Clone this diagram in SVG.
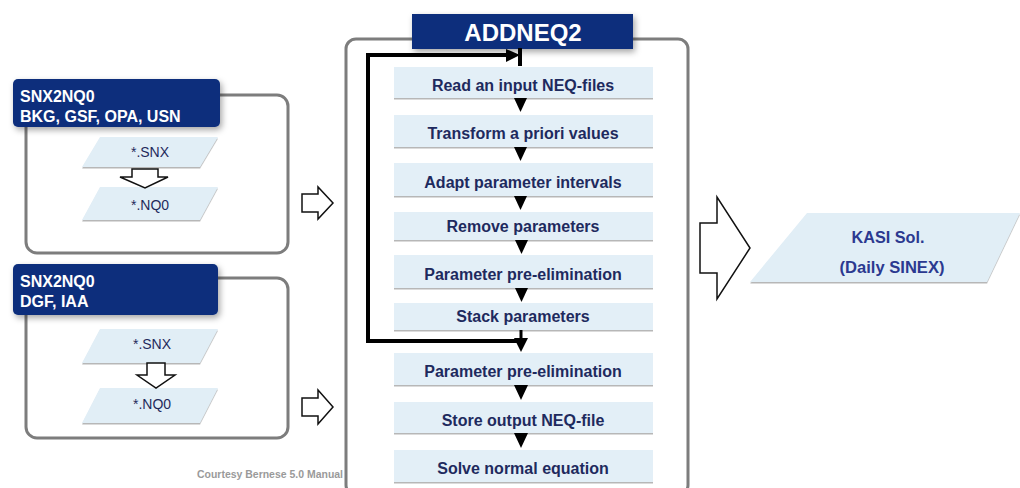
<svg xmlns="http://www.w3.org/2000/svg" width="1020" height="488" viewBox="0 0 1020 488">
<defs>
<filter id="sh" x="-10%" y="-20%" width="125%" height="150%">
<feDropShadow dx="2" dy="3" stdDeviation="3" flood-color="#000" flood-opacity="0.35"/>
</filter>
<filter id="sh2" x="-5%" y="-20%" width="110%" height="150%">
<feDropShadow dx="0" dy="1.5" stdDeviation="0.6" flood-color="#999" flood-opacity="0.7"/>
</filter>
</defs>
<style>
.outer{fill:#fff;stroke:#7d7d7d;stroke-width:3}
.hdr{fill:#0c2f7c}
.hdrt{fill:#fff;font-family:"Liberation Sans",Arial,sans-serif;font-weight:bold}
.para{fill:#e1eef6;filter:url(#sh2)}
.pt{fill:#1f2a5c;font-family:"Liberation Sans",Arial,sans-serif;font-size:14px;text-anchor:middle}
.box{fill:#e3eff7;filter:url(#sh2)}
.bt{fill:#1e2a5e;font-family:"Liberation Sans",Arial,sans-serif;font-weight:bold;font-size:16px;text-anchor:middle}
.harr{fill:#fff;stroke:#111;stroke-width:1.5;stroke-linejoin:miter}
.tri{fill:#000}
.loop{fill:none;stroke:#000;stroke-width:4;stroke-linejoin:miter}
.kasi{fill:#2b3990;font-family:"Liberation Sans",Arial,sans-serif;font-weight:bold;font-size:17px;text-anchor:middle}
</style>

<g id="group-bkg">
<rect class="outer" x="26" y="95" width="262" height="158" rx="11"/>
<rect class="hdr" x="13" y="79" width="207" height="48" rx="5" filter="url(#sh)"/>
<text class="hdrt" x="20" y="102" font-size="16">SNX2NQ0</text>
<text class="hdrt" x="20" y="122" font-size="16">BKG, GSF, OPA, USN</text>
</g>
<g id="snx1">
<polygon class="para" points="100,137 218,137 200,167 82,167"/>
<text class="pt" x="150" y="157">*.SNX</text>
</g>
<g id="nq01">
<polygon class="para" points="100,187 218,187 200,220 82,220"/>
<text class="pt" x="150" y="210">*.NQ0</text>
</g>

<g id="group-dgf">
<rect class="outer" x="26" y="278" width="262" height="160" rx="11"/>
<rect class="hdr" x="13" y="264" width="205" height="51" rx="5" filter="url(#sh)"/>
<text class="hdrt" x="20" y="287" font-size="16">SNX2NQ0</text>
<text class="hdrt" x="20" y="307" font-size="16">DGF, IAA</text>
</g>
<g id="snx2">
<polygon class="para" points="100,329 218,329 200,363 82,363"/>
<text class="pt" x="152" y="349">*.SNX</text>
</g>
<g id="nq02">
<polygon class="para" points="100,388 218,388 200,423 82,423"/>
<text class="pt" x="152" y="409">*.NQ0</text>
</g>

<g id="addneq2">
<rect class="outer" x="346" y="39" width="342" height="456" rx="10"/>
<rect class="hdr" x="412" y="14" width="221" height="35" filter="url(#sh)"/>
<text class="hdrt" x="523" y="40.5" font-size="24" text-anchor="middle">ADDNEQ2</text>
</g>

<g id="step1"><rect class="box" x="394" y="67" width="259" height="31"/><text class="bt" x="523" y="91">Read an input NEQ-files</text></g>
<g id="step2"><rect class="box" x="394" y="115" width="259" height="32"/><text class="bt" x="523" y="139">Transform a priori values</text></g>
<g id="step3"><rect class="box" x="394" y="163" width="259" height="33"/><text class="bt" x="523" y="188">Adapt parameter intervals</text></g>
<g id="step4"><rect class="box" x="394" y="212" width="259" height="28"/><text class="bt" x="523" y="232">Remove parameters</text></g>
<g id="step5"><rect class="box" x="394" y="255" width="259" height="33"/><text class="bt" x="523" y="280">Parameter pre-elimination</text></g>
<g id="step6"><rect class="box" x="394" y="303" width="259" height="27"/><text class="bt" x="523" y="322">Stack parameters</text></g>
<g id="step7"><rect class="box" x="394" y="353" width="259" height="32"/><text class="bt" x="523" y="377">Parameter pre-elimination</text></g>
<g id="step8"><rect class="box" x="394" y="402" width="259" height="31"/><text class="bt" x="523" y="426">Store output NEQ-file</text></g>
<g id="step9"><rect class="box" x="394" y="450" width="259" height="32"/><text class="bt" x="523" y="474">Solve normal equation</text></g>

<g id="kasi">
<polygon class="para" points="807,213 1020,213 987,282 750,282"/>
<text class="kasi" x="888" y="243" textLength="73" lengthAdjust="spacingAndGlyphs">KASI Sol.</text>
<text class="kasi" x="892" y="273" textLength="105" lengthAdjust="spacingAndGlyphs">(Daily SINEX)</text>
</g>

<g id="connectors">
<polygon class="harr" points="132,169 158,169 158,177 168,177 145,188 120,177 132,177"/>
<polygon class="harr" points="147,363 165,363 165,375 175,375 156,388 137,375 147,375"/>
<polygon class="harr" points="302,194 318,194 318,187 333,203 318,219 318,212 302,212"/>
<polygon class="harr" points="302,398 318,398 318,390 333,407 318,424 318,416 302,416"/>
<polygon class="harr" points="700,223 717,223 717,197 750,248 717,299 717,273 700,273"/>
<polyline class="loop" points="520,341 368,341 368,55 510,55"/>
<polygon class="tri" points="506,49 520,55 506,62"/>
<line x1="520" y1="48" x2="520" y2="66" stroke="#000" stroke-width="4"/>
<line x1="521" y1="330" x2="521" y2="340" stroke="#000" stroke-width="3"/>
<polygon class="tri" points="514,98 527,98 520.5,112"/>
<polygon class="tri" points="514,147 527,147 520.5,161"/>
<polygon class="tri" points="514,196 527,196 520.5,210"/>
<polygon class="tri" points="515,240 528,240 521.5,254"/>
<polygon class="tri" points="515,288 528,288 521.5,302"/>
<polygon class="tri" points="514,338 528,338 521,352"/>
<polygon class="tri" points="514,385 528,385 521,400"/>
<polygon class="tri" points="514,433 528,433 521,448"/>
</g>
<text x="197" y="478" font-family="'Liberation Sans',Arial,sans-serif" font-size="10" font-weight="bold" fill="#9a9a9a" textLength="146" lengthAdjust="spacingAndGlyphs">Courtesy Bernese 5.0 Manual</text>
</svg>
